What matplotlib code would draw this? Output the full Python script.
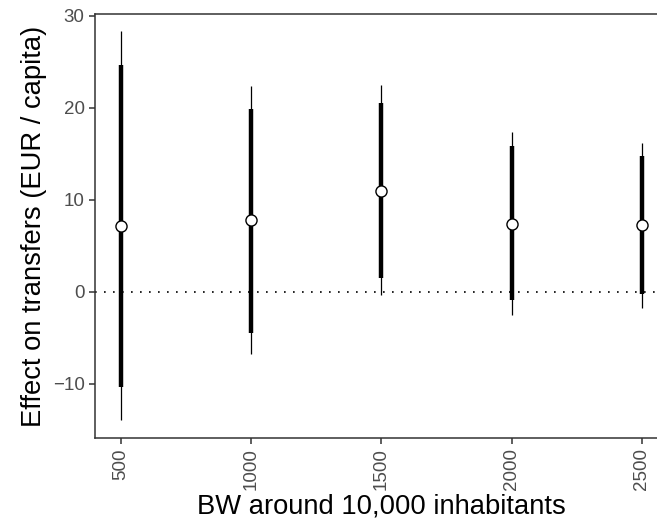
import matplotlib.pyplot as plt
import numpy as np

plt.rcParams['font.family'] = ['Liberation Sans', 'DejaVu Sans']

# bandwidths and estimates
bw = [500, 1000, 1500, 2000, 2500]
est = [7.2, 7.8, 11.0, 7.4, 7.25]
# thick (inner) interval
lo_in = [-10.4, -4.5, 1.5, -0.9, -0.25]
hi_in = [24.7, 19.9, 20.5, 15.8, 14.8]
# thin (outer) interval
lo_out = [-13.9, -6.8, -0.4, -2.5, -1.8]
hi_out = [28.3, 22.4, 22.5, 17.4, 16.2]

yticks = [-10, 0, 10, 20, 30]

fig = plt.figure(figsize=(6.57, 5.28), dpi=100)
# axes run past the right edge of the figure (clipped like the original)
ax = fig.add_axes([95 / 657, 90 / 528, 573 / 657, 424 / 528])

ax.axhline(0, color='black', lw=1.2, linestyle=(0, (1, 4.4)), zorder=1)

ax.vlines(bw, lo_out, hi_out, color='black', lw=0.9, zorder=2)
ax.vlines(bw, lo_in, hi_in, color='black', lw=3.2, zorder=3)
ax.plot(bw, est, 'o', ms=8, mfc='white', mec='black', mew=1.0, zorder=4)

ax.set_xlim(400, 2600)
ax.set_ylim(-15.9, 30.2)
ax.set_xticks(bw)
ax.set_xticklabels([str(b) for b in bw], rotation=90)
ax.set_yticks(yticks)
ax.set_yticklabels(['\u221210', '0', '10', '20', '30'])

for side in ['left', 'bottom', 'top', 'right']:
    ax.spines[side].set_color('#333333')
    ax.spines[side].set_linewidth(1.1)

ax.tick_params(axis='both', colors='#333333', labelcolor='#4d4d4d',
               labelsize=13.5, length=4, width=1.1)

ax.set_xlabel('BW around 10,000 inhabitants', fontsize=19.7, labelpad=2)
ax.set_ylabel('Effect on transfers (EUR / capita)', fontsize=19.7, labelpad=4)

fig.savefig('out.png', dpi=100)
